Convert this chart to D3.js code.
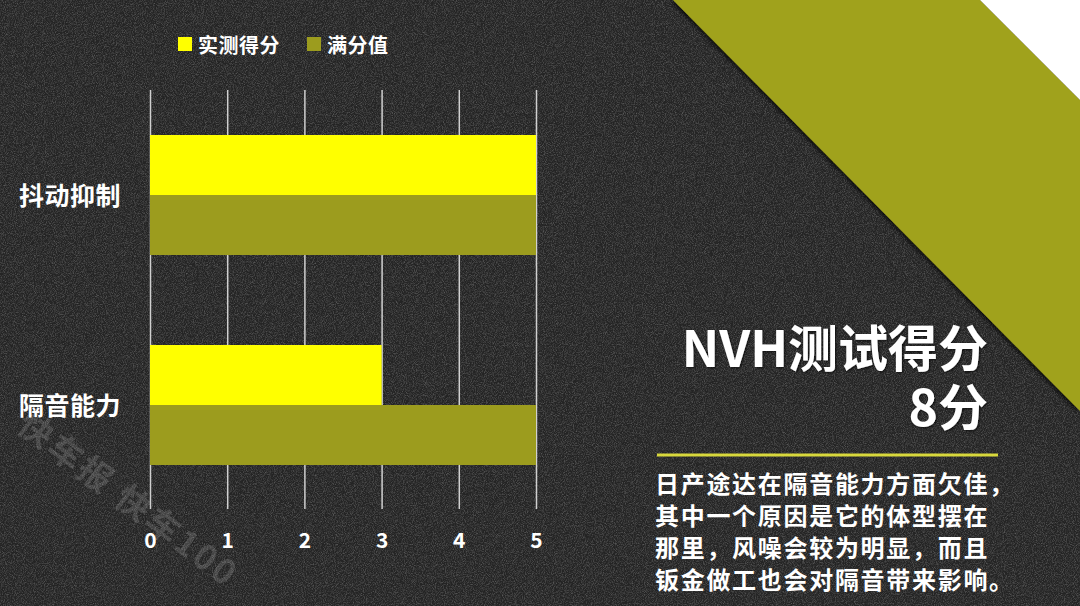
<!DOCTYPE html>
<html>
<head>
<meta charset="utf-8">
<script src="https://cdn.jsdelivr.net/npm/d3@7/dist/d3.min.js"></script>
<style>
  html, body { margin: 0; padding: 0; background: #232323; }
  svg { display: block; }
  text { font-family: "Noto Sans CJK SC", "Noto Sans", sans-serif; }
</style>
</head>
<body>
<svg id="chart" width="1080" height="606"></svg>
<script>
const categories = ["抖动抑制", "隔音能力"];
const seriesNames = ["实测得分", "满分值"];
const measured = [5, 3];
const fullScore = [5, 5];
const tickValues = [0, 1, 2, 3, 4, 5];
const titleLines = ["NVH测试得分", "8分"];
const paragraph = [
  "日产途达在隔音能力方面欠佳，",
  "其中一个原因是它的体型摆在",
  "那里，风噪会较为明显，而且",
  "钣金做工也会对隔音带来影响。"
];
const watermark = "快车报 快车100";

const W = 1080, H = 606;
const colors = ["#ffff00", "#9c9c1e"];
const svg = d3.select("#chart");

const defs = svg.append("defs");
const noise = defs.append("filter").attr("id", "noise").attr("x", 0).attr("y", 0).attr("width", "100%").attr("height", "100%");
noise.append("feTurbulence").attr("type", "fractalNoise").attr("baseFrequency", 1.1).attr("numOctaves", 2).attr("seed", 3).attr("result", "t");
noise.append("feColorMatrix").attr("type", "matrix")
  .attr("values", "0 0 0 0 1  0 0 0 0 1  0 0 0 0 1  1.4 0 0 0 -0.55");
const shadow = defs.append("filter").attr("id", "shadow").attr("x", "-20%").attr("y", "-20%").attr("width", "140%").attr("height", "140%");
shadow.append("feDropShadow").attr("dx", -2).attr("dy", 1).attr("stdDeviation", 2).attr("flood-color", "#000").attr("flood-opacity", 0.8);
const tshadow = defs.append("filter").attr("id", "tshadow");
tshadow.append("feDropShadow").attr("dx", 1).attr("dy", 1).attr("stdDeviation", 1).attr("flood-color", "#000").attr("flood-opacity", 0.7);

// background
svg.append("rect").attr("width", W).attr("height", H).attr("fill", "#242424");
svg.append("rect").attr("width", W).attr("height", H).attr("filter", "url(#noise)").attr("opacity", 0.35);

// decorative bands
svg.append("polygon").attr("points", "673,0 980,0 1080,100 1080,411").attr("fill", "#a0a21e").attr("filter", "url(#shadow)");
svg.append("polygon").attr("points", "980,0 1080,0 1080,100").attr("fill", "#ffffff");

// watermark (beneath chart marks)
svg.append("text").attr("transform", "translate(24,418) rotate(37)")
  .attr("fill", "#ffffff").attr("opacity", 0.14).attr("font-size", 34).attr("font-weight", "bold")
  .attr("dominant-baseline", "central")
  .style("letter-spacing", "3px")
  .text(watermark);

// scales
const x = d3.scaleLinear().domain([0, 5]).range([150, 536]);
const y = d3.scaleBand().domain(categories).range([90, 510]).paddingInner(0.4286).paddingOuter(0.2143);
const ySub = d3.scaleBand().domain(seriesNames).range([0, y.bandwidth()]);

// axis with grid lines
const axis = svg.append("g").attr("transform", "translate(0,509)")
  .call(d3.axisBottom(x).tickValues(tickValues).tickSize(-419).tickPadding(24).tickFormat(d3.format("d")));
axis.select(".domain").remove();
axis.selectAll(".tick line").attr("stroke", "#d0d0d0").attr("stroke-width", 1.5);
axis.selectAll(".tick text").attr("fill", "#ffffff").attr("font-size", 21).attr("font-weight", "bold")
  .style("font-family", "'Noto Sans CJK SC', sans-serif");

// bars
const rows = categories.map((c, i) => ({ cat: c, vals: [measured[i], fullScore[i]] }));
const g = svg.append("g");
rows.forEach(r => {
  r.vals.forEach((v, j) => {
    g.append("rect")
      .attr("x", x(0))
      .attr("y", y(r.cat) + ySub(seriesNames[j]))
      .attr("width", x(v) - x(0))
      .attr("height", ySub.bandwidth())
      .attr("fill", colors[j]);
  });
});

// category labels
svg.append("g").selectAll("text").data(categories).join("text")
  .attr("x", 121).attr("y", d => y(d) + y.bandwidth() / 2 - 1)
  .attr("text-anchor", "end").attr("dominant-baseline", "central")
  .attr("fill", "#ffffff").attr("font-size", 25).attr("font-weight", "bold")
  .style("letter-spacing", "0.5px")
  .text(d => d);

// legend
const leg = svg.append("g").attr("transform", "translate(178,44)");
const legX = [0, 129];
seriesNames.forEach((s, i) => {
  leg.append("rect").attr("x", legX[i]).attr("y", -7).attr("width", 14).attr("height", 14).attr("fill", colors[i]);
  leg.append("text").attr("x", legX[i] + 20).attr("y", 0).attr("dominant-baseline", "central")
    .attr("fill", "#ffffff").attr("font-size", 20).attr("font-weight", "bold")
    .style("letter-spacing", "0.5px").text(s);
});

// title (one text, two lines)
const title = svg.append("text")
  .attr("text-anchor", "end").attr("dominant-baseline", "central")
  .attr("fill", "#ffffff").attr("font-size", 50).attr("font-weight", "bold")
  .attr("filter", "url(#tshadow)");
title.selectAll("tspan").data(titleLines).join("tspan")
  .attr("x", 988).attr("y", (d, i) => 345 + i * 59)
  .attr("dominant-baseline", "central")
  .text(d => d);

// divider
svg.append("line").attr("x1", 657).attr("x2", 998).attr("y1", 455).attr("y2", 455)
  .attr("stroke", "#d8d83c").attr("stroke-width", 3);

// paragraph
svg.append("g").selectAll("text").data(paragraph).join("text")
  .attr("x", 655).attr("y", (d, i) => 482 + i * 32)
  .attr("dominant-baseline", "central")
  .attr("fill", "#ffffff").attr("font-size", 24).attr("font-weight", "bold")
  .style("letter-spacing", "1.7px")
  .text(d => d);
</script>
</body>
</html>
